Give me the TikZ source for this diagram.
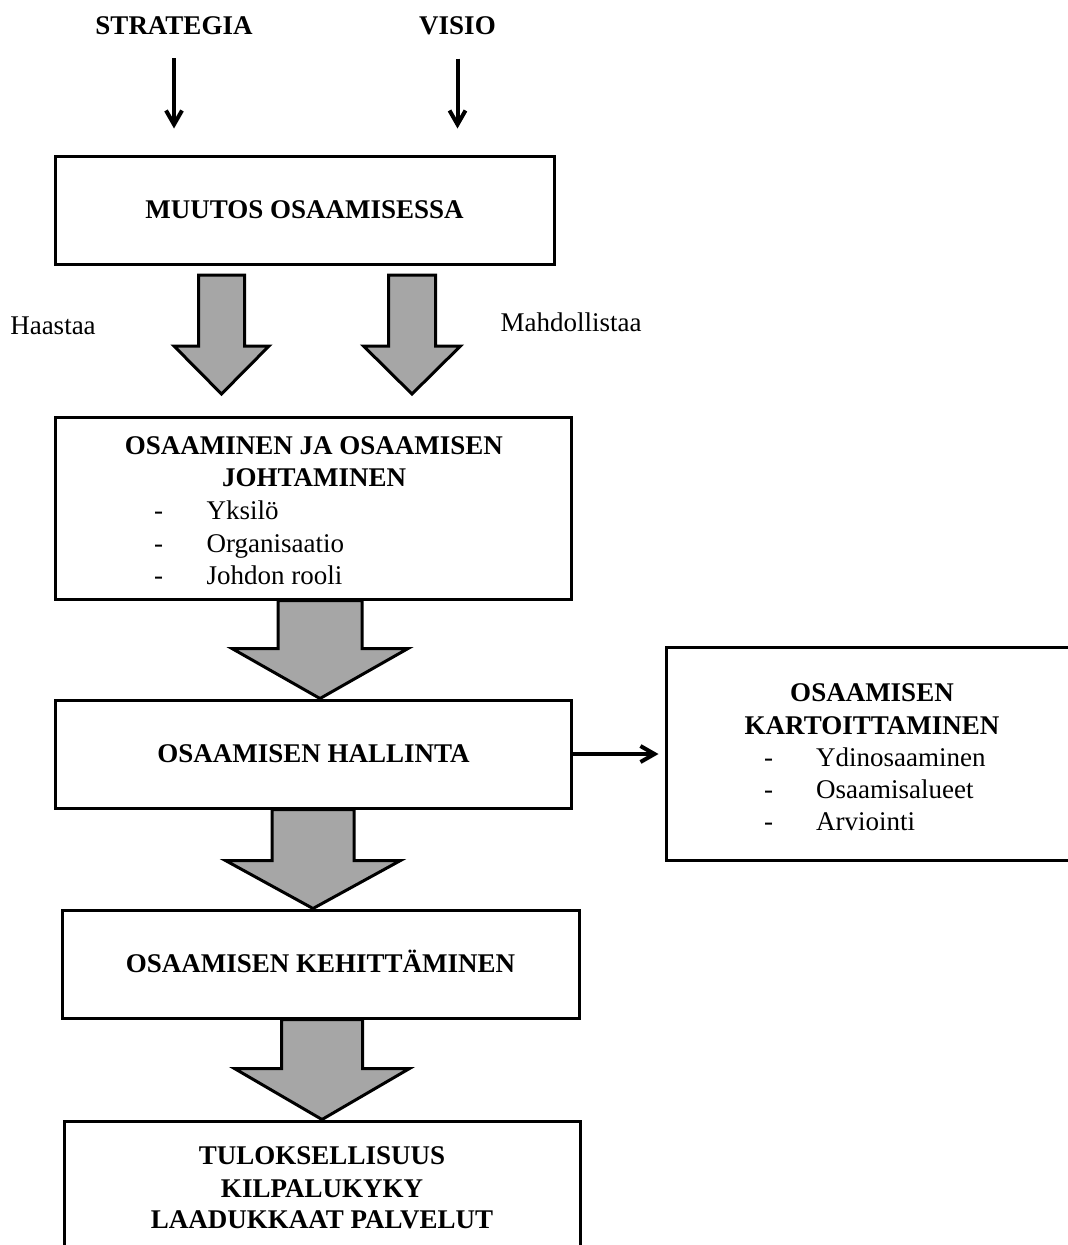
\documentclass[tikz,border=0pt]{standalone}
\usepackage{fontspec}
\setmainfont{Liberation Serif}
\usetikzlibrary{arrows.meta,calc}
\definecolor{fatgray}{HTML}{A6A6A6}

% Broad grey arrow between two boxes:
% #1 upper box, #2 lower box, #3 centre x, #4 gap below #1, #5 gap above #2,
% #6 shaft half-width, #7 head half-width, #8 head length
\newcommand\fatarrow[8]{%
  \draw[fat] let \p1=(#1.south), \p2=(#2.north) in
    (#3pt-#6pt,\y1-#4pt) -- (#3pt+#6pt,\y1-#4pt)
    -- (#3pt+#6pt,\y2+#5pt+#8pt) -- (#3pt+#7pt,\y2+#5pt+#8pt)
    -- (#3pt,\y2+#5pt)
    -- (#3pt-#7pt,\y2+#5pt+#8pt) -- (#3pt-#6pt,\y2+#5pt+#8pt) -- cycle;}

\begin{document}
\begin{tikzpicture}[x=1pt,y=-1pt,
  txt/.style={font=\fontsize{27}{33}\selectfont, inner sep=0pt},
  hd/.style={font=\fontsize{27}{33}\selectfont\bfseries, inner sep=0pt},
  box/.style={draw, line width=3pt, rectangle, inner sep=0pt,
              font=\fontsize{27}{33}\selectfont\bfseries},
  fat/.style={draw, line width=3pt, fill=fatgray, line join=miter},
  thinarrow/.style={line width=4pt, -{Straight Barb[length=14pt,width=16pt]}}]

\useasboundingbox (0,0) rectangle (1068,1245);

% boxes
\node[box, minimum width=499pt, minimum height=108pt] (b1) at (304.5,210) {MUUTOS OSAAMISESSA};
\node[box, minimum width=516pt, minimum height=182pt] (b2) at (313.5,508) {};
\node[box, minimum width=516pt, minimum height=108pt] (b3) at (313.5,754) {OSAAMISEN HALLINTA};
\node[box, minimum width=412pt, minimum height=213pt] (b4) at (872,753.5) {};
\node[box, minimum width=517pt, minimum height=108pt] (b5) at (320.5,964) {OSAAMISEN KEHITT\smash{Ä}MINEN};
\node[box, minimum width=516pt, minimum height=178pt] (b6) at (322,1210) {};

% inputs at the top
\node[hd, anchor=base] (strat) at (174,34) {STRATEGIA};
\node[hd, anchor=base] (visio) at (457.5,34) {VISIO};
\draw[thinarrow, shorten <=24pt, shorten >=26pt] (strat) -- (strat |- b1.north);
\draw[thinarrow, shorten <=24pt, shorten >=26pt] (visio) -- (visio |- b1.north);

% side labels of the first pair of arrows
\node[txt, anchor=base] (haastaa) at (53,334) {Haastaa};
\node[txt, anchor=base] (mahd) at (571,331) {Mahdollistaa};

% contents of the second box
\node[hd, anchor=base] (b2t1) at (314,454) {OSAAMINEN JA OSAAMISEN};
\node[hd, anchor=base] (b2t2) at (314,486) {JOHTAMINEN};
\node[txt, anchor=base west] (b2i1) at (154,519) {\makebox[52.5pt][l]{-}Yksilö};
\node[txt, anchor=base west] (b2i2) at (154,552) {\makebox[52.5pt][l]{-}Organisaatio};
\node[txt, anchor=base west] (b2i3) at (154,584) {\makebox[52.5pt][l]{-}Johdon rooli};

% contents of the side box
\node[hd, anchor=base] (b4t1) at (872,701) {OSAAMISEN};
\node[hd, anchor=base] (b4t2) at (872,734) {KARTOITTAMINEN};
\node[txt, anchor=base west] (b4i1) at (764,766) {\makebox[52pt][l]{-}Ydinosaaminen};
\node[txt, anchor=base west] (b4i2) at (764,798) {\makebox[52pt][l]{-}Osaamisalueet};
\node[txt, anchor=base west] (b4i3) at (764,830) {\makebox[52pt][l]{-}Arviointi};

% contents of the last box
\node[hd, anchor=base] (b6t1) at (322,1164) {TULOKSELLISUUS};
\node[hd, anchor=base] (b6t2) at (322,1197) {KILPALUKYKY};
\node[hd, anchor=base] (b6t3) at (322,1228) {LAADUKKAAT PALVELUT};

% broad arrows
\fatarrow{b1}{b2}{221.5}{9.5}{21.5}{23}{47.5}{48}
\fatarrow{b1}{b2}{412}{9.5}{21.5}{23.5}{48.5}{48}
\fatarrow{b2}{b3}{320}{0}{0}{42}{88}{50}
\fatarrow{b3}{b5}{313}{0}{0}{41}{87.5}{48}
\fatarrow{b5}{b6}{322}{0}{0}{40.5}{87.5}{51}

% link to the side box
\draw[thinarrow, shorten >=6pt] (b3.east) -- (b3.east -| b4.west);
\end{tikzpicture}
\end{document}
